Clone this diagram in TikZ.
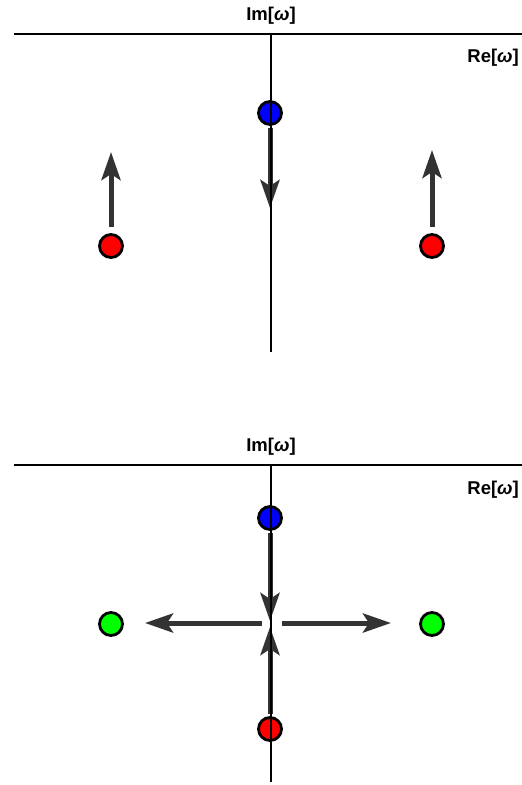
\documentclass[tikz,border=0pt]{standalone}
\usepackage{fontspec}
\setmainfont{Liberation Sans}
\usepackage{xcolor}
\usetikzlibrary{arrows.meta}

\begin{document}
\begin{tikzpicture}[x=1pt,y=-1pt,
	axis/.style	= {line width=1.2pt, black},
	pole/.style	= {circle, draw=black, line width=2.8pt, minimum size=23pt, inner sep=0pt},
	flow/.style	= {line width=5pt, draw=black!80,
		-{Stealth[length=28pt,width=19pt,inset=6pt]}},
	lab/.style	= {font=\bfseries\fontsize{18.5}{22}\selectfont, inner sep=1pt}]
	
	\useasboundingbox (0,0) rectangle (522,785);
	
	% upper panel
	\node[lab] (im1) at (271,16) {Im[\textit{ω}]};
	\node[lab,anchor=east] (re1) at (520,58) {Re[\textit{ω}]};
	
	\node[pole,fill=blue] (b1) at (270,113) {};
	\node[pole,fill=red] (r1) at (111,246) {};
	\node[pole,fill=red] (r2) at (432,246) {};
	
	\coordinate (tb1) at (270,208);
	\coordinate (tr1) at (111,152);
	\coordinate (tr2) at (432,150);
	
	\draw[flow,shorten <=2pt] (b1) -- (tb1);
	\draw[flow,shorten <=6pt] (r1) -- (tr1);
	\draw[flow,shorten <=6pt] (r2) -- (tr2);
	
	\coordinate (w1) at (14,34);
	\coordinate (e1) at (522,34);
	\coordinate (n1) at (271,34);
	\coordinate (s1) at (271,352);
	\draw[axis] (w1) -- (e1);
	\draw[axis] (n1) -- (s1);
	
	% lower panel
	\node[lab] (im2) at (271,447) {Im[\textit{ω}]};
	\node[lab,anchor=east] (re2) at (520,490) {Re[\textit{ω}]};
	
	\node[pole,fill=blue] (b2) at (270,518) {};
	\node[pole,fill=red] (r3) at (270,729) {};
	\node[pole,fill=green] (g1) at (111,624) {};
	\node[pole,fill=green] (g2) at (432,624) {};
	
	\coordinate (tb2) at (270,621);
	\coordinate (tr3) at (270,627);
	\coordinate (hl0) at (262,623);
	\coordinate (hl1) at (145,623);
	\coordinate (hr0) at (282,623);
	\coordinate (hr1) at (391,623);
	
	\draw[flow,shorten <=2pt] (b2) -- (tb2);
	\draw[flow,shorten <=2pt] (r3) -- (tr3);
	\draw[flow] (hl0) -- (hl1);
	\draw[flow] (hr0) -- (hr1);
	
	\coordinate (w2) at (14,465);
	\coordinate (e2) at (522,465);
	\coordinate (n2) at (271,465);
	\coordinate (s2) at (271,782);
	\draw[axis] (w2) -- (e2);
	\draw[axis] (n2) -- (s2);
	
\end{tikzpicture}
\end{document}
